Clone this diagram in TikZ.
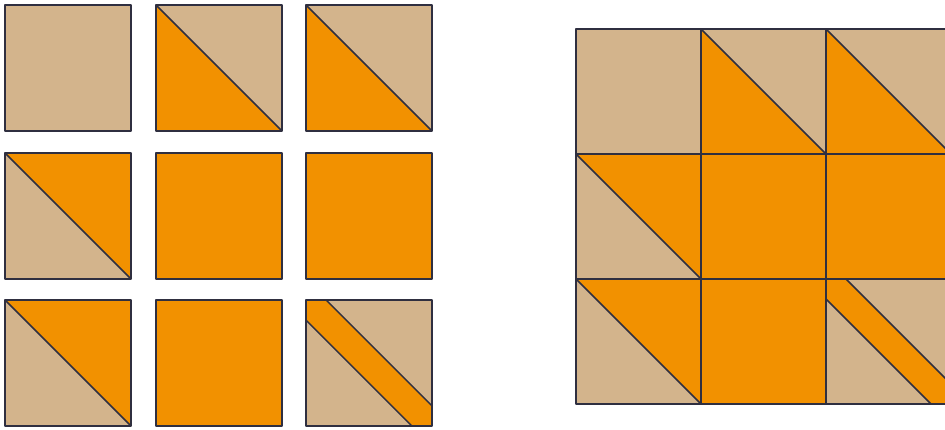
\documentclass[tikz,border=0pt]{standalone}
\definecolor{tanc}{HTML}{D3B48C}
\definecolor{orangec}{HTML}{F29100}
\definecolor{linec}{HTML}{2F2F40}
\tikzset{
  edge/.style={draw=linec, line width=1.5pt, line join=round},
  pics/tanbox/.style={code={
    \fill[tanc] (0,0) rectangle (1,1);
    \draw[edge] (0,0) rectangle (1,1);}},
  pics/orangebox/.style={code={
    \fill[orangec] (0,0) rectangle (1,1);
    \draw[edge] (0,0) rectangle (1,1);}},
  pics/lowerleft/.style={code={
    \fill[tanc] (0,0) rectangle (1,1);
    \fill[orangec] (0,0) -- (0,1) -- (1,1) -- cycle;
    \draw[edge] (0,0) rectangle (1,1);
    \draw[edge] (0,0) -- (1,1);}},
  pics/upperright/.style={code={
    \fill[tanc] (0,0) rectangle (1,1);
    \fill[orangec] (0,0) -- (1,0) -- (1,1) -- cycle;
    \draw[edge] (0,0) rectangle (1,1);
    \draw[edge] (0,0) -- (1,1);}},
  pics/stripebox/.style={code={
    \fill[tanc] (0,0) rectangle (1,1);
    \fill[orangec] (0,0) -- (0.16,0) -- (1,0.84) -- (1,1) -- (0.84,1) -- (0,0.16) -- cycle;
    \draw[edge] (0.16,0) -- (1,0.84);
    \draw[edge] (0,0.16) -- (0.84,1);
    \draw[edge] (0,0) rectangle (1,1);}}
}
\begin{document}
\begin{tikzpicture}[x=1pt,y=-1pt]
\path[use as bounding box, clip] (0,0) rectangle (945,429);
\fill[white] (0,0) rectangle (945,429);
% left grid
\pic[scale=126] at (5,5) {tanbox};
\pic[scale=126] at (156,5) {lowerleft};
\pic[scale=126] at (306,5) {lowerleft};
\pic[scale=126] at (5,153) {upperright};
\pic[scale=126] at (156,153) {orangebox};
\pic[scale=126] at (306,153) {orangebox};
\pic[scale=126] at (5,300) {upperright};
\pic[scale=126] at (156,300) {orangebox};
\pic[scale=126] at (306,300) {stripebox};
% right grid
\pic[scale=125] at (576,29) {tanbox};
\pic[scale=125] at (701,29) {lowerleft};
\pic[scale=125] at (826,29) {lowerleft};
\pic[scale=125] at (576,154) {upperright};
\pic[scale=125] at (701,154) {orangebox};
\pic[scale=125] at (826,154) {orangebox};
\pic[scale=125] at (576,279) {upperright};
\pic[scale=125] at (701,279) {orangebox};
\pic[scale=125] at (826,279) {stripebox};
\end{tikzpicture}
\end{document}
